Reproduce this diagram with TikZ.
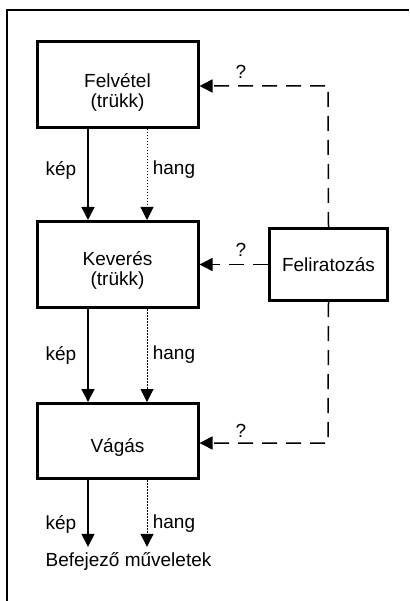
\documentclass[tikz,border=0pt]{standalone}
\usepackage{fontspec}
\setmainfont{Liberation Sans}
\usetikzlibrary{arrows.meta}
\begin{document}
\begin{tikzpicture}[x=1pt,y=-1pt,
  txt/.style={font=\fontsize{19}{19.5}\selectfont,align=center,inner sep=0pt},
  box/.style={draw,line width=3pt,minimum width=161pt,inner sep=0pt},
  solidarr/.style={line width=1.5pt,-{Triangle[width=13pt,length=13pt]}},
  dotarr/.style={line width=1pt,dash pattern=on 1.5pt off 1.5pt,-{Triangle[width=13pt,length=13pt]}},
  dasharr/.style={line width=1.5pt,dash pattern=on 15pt off 9pt,-{Triangle[width=13pt,length=13pt]}},
  dashline/.style={line width=1.5pt,dash pattern=on 15pt off 9pt}]
\useasboundingbox (0,0) rectangle (409,601);
% frame
\draw[line width=2pt] (7,601) -- (7,10) -- (409,10);
% boxes
\node[box,minimum height=86pt,label={[txt,yshift=-8pt]center:Felvétel\\(trükk)}] (b1) at (117.5,84.5) {};
\node[box,minimum height=86pt,label={[txt,yshift=-6pt]center:Keverés\\(trükk)}] (b2) at (117.5,264.5) {};
\node[box,minimum height=75pt,label={[txt,yshift=-6pt]center:Vágás}] (b3) at (117.5,441) {};
\node[draw,line width=3pt,minimum width=118pt,minimum height=72pt,txt] (f) at (328.5,264.5) {Feliratozás};
\node[txt] (end) at (128.5,561) {Befejező műveletek};
% columns
\coordinate (kx) at (88,0);
\coordinate (hx) at (147,0);
\coordinate (dx) at (328,0);
% vertical flows
\draw[solidarr] (b1.south -| kx) -- (b2.north -| kx);
\draw[dotarr] (b1.south -| hx) -- (b2.north -| hx);
\draw[solidarr] (b2.south -| kx) -- (b3.north -| kx);
\draw[dotarr] (b2.south -| hx) -- (b3.north -| hx);
\draw[solidarr,shorten >=5pt] (b3.south -| kx) -- (end.north -| kx);
\draw[dotarr,shorten >=5pt] (b3.south -| hx) -- (end.north -| hx);
% labels
\node[txt] (k1) at (61,170) {kép};
\node[txt] (h1) at (174,170) {hang};
\node[txt] (k2) at (61,355) {kép};
\node[txt] (h2) at (174,355) {hang};
\node[txt] (k3) at (61,524) {kép};
\node[txt] (h3) at (174,524) {hang};
% dashed feedback
\coordinate (c1) at (328,86);
\coordinate (c3) at (328,443);
\draw[dasharr] (f.north) -- (c1) -- (b1.east |- c1);
\draw[dasharr] (f.west) -- (b2.east);
\draw[dasharr] (f.south) -- (c3) -- (b3.east |- c3);
\node[txt] (q1) at (241,72) {?};
\node[txt] (q2) at (241,250) {?};
\node[txt] (q3) at (241,431) {?};
\end{tikzpicture}
\end{document}
